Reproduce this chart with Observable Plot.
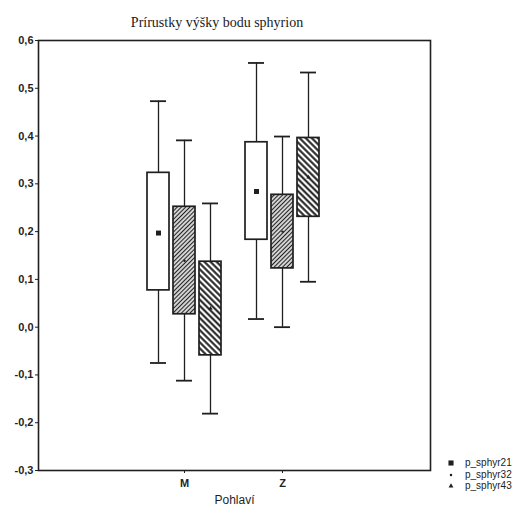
<!DOCTYPE html>
<html>
<head>
<meta charset="utf-8">
<script src="https://cdn.jsdelivr.net/npm/d3@7"></script>
<script src="https://cdn.jsdelivr.net/npm/@observablehq/plot@0.6"></script>
<style>
  body { margin: 0; background: #fff; }
  #wrap { position: relative; width: 531px; height: 510px; overflow: hidden; }
  #title { position: absolute; left: 0; top: 16px; width: 434px; text-align: center;
           font: 14px "Liberation Serif", "Times New Roman", serif; line-height: 14px; color: #1a1a1a; }
  #chart { position: absolute; left: 0; top: 30px; }
  #legend { position: absolute; left: 446px; top: 457px; font: 10px "Liberation Sans", Arial, sans-serif; color: #222; }
  .row { position: absolute; left: 0; height: 11px; white-space: nowrap; }
  .row svg { position: absolute; left: 0; top: 1px; }
  .row span { position: absolute; left: 19px; top: 0; line-height: 11px; }
</style>
</head>
<body>
<svg width="0" height="0" style="position:absolute">
  <defs>
    <pattern id="hatchFine" width="3" height="3" patternUnits="userSpaceOnUse" patternTransform="rotate(45)">
      <rect width="3" height="3" fill="#fff"></rect>
      <line x1="1.5" y1="0" x2="1.5" y2="3" stroke="#222" stroke-width="1.4"></line>
    </pattern>
    <pattern id="hatchCoarse" width="4.3" height="4.3" patternUnits="userSpaceOnUse" patternTransform="rotate(-45)">
      <rect width="4.3" height="4.3" fill="#fff"></rect>
      <line x1="2.15" y1="0" x2="2.15" y2="4.3" stroke="#1a1a1a" stroke-width="2"></line>
    </pattern>
  </defs>
</svg>
<div id="wrap">
  <div id="title">Prírustky výšky bodu sphyrion</div>
  <div id="chart"></div>
  <div id="legend"></div>
</div>
<script>
// Groups on the x axis and the three measured series
const groups = ["M", "Z"];
const series = ["p_sphyr21", "p_sphyr32", "p_sphyr43"];

// Means, boxes and whiskers per series (M)
const meanM      = [0.197, 0.139, 0.039];
const boxLowM    = [0.077, 0.027, -0.059];
const boxHighM   = [0.323, 0.252, 0.137];
const whiskLowM  = [-0.075, -0.112, -0.181];
const whiskHighM = [0.473, 0.391, 0.259];

// Means, boxes and whiskers per series (Z)
const meanZ      = [0.284, 0.200, 0.314];
const boxLowZ    = [0.183, 0.123, 0.231];
const boxHighZ   = [0.387, 0.277, 0.396];
const whiskLowZ  = [0.017, 0.000, 0.095];
const whiskHighZ = [0.553, 0.399, 0.533];

const yTicks = [-0.3, -0.2, -0.1, 0.0, 0.1, 0.2, 0.3, 0.4, 0.5, 0.6];
const xLabel = "Pohlaví";

const ink = "#1f1f1f";
const fills = ["#fff", "url(#hatchFine)", "url(#hatchCoarse)"];
const symbols = ["square", "circle", "triangle"];
const radii = [2.8, 1.2, 1.6];

const source = {
  M: {mean: meanM, boxLow: boxLowM, boxHigh: boxHighM, whiskLow: whiskLowM, whiskHigh: whiskHighM},
  Z: {mean: meanZ, boxLow: boxLowZ, boxHigh: boxHighZ, whiskLow: whiskLowZ, whiskHigh: whiskHighZ}
};

const rows = [];
for (const g of groups) {
  series.forEach((s, i) => {
    const src = source[g];
    rows.push({group: g, series: s, i,
      mean: src.mean[i], boxLow: src.boxLow[i], boxHigh: src.boxHigh[i],
      whiskLow: src.whiskLow[i], whiskHigh: src.whiskHigh[i]});
  });
}

// Each group band holds three boxes 22px wide, 26px apart
const boxW = 22, step = 26;
const marks = [];
series.forEach((s, i) => {
  const d = rows.filter(r => r.i === i);
  const left = i * step, right = (series.length - 1 - i) * step;
  const dx = i * step + boxW / 2 - (boxW + step * (series.length - 1)) / 2;
  marks.push(
    Plot.ruleX(d, {x: "group", y1: "whiskLow", y2: "whiskHigh", dx, stroke: ink, strokeWidth: 1.3}),
    Plot.tickY(d, {x: "group", y: "whiskLow", insetLeft: left + 3, insetRight: right + 3, stroke: ink, strokeWidth: 1.8}),
    Plot.tickY(d, {x: "group", y: "whiskHigh", insetLeft: left + 3, insetRight: right + 3, stroke: ink, strokeWidth: 1.8}),
    Plot.barY(d, {x: "group", y1: "boxLow", y2: "boxHigh", insetLeft: left, insetRight: right,
                  fill: fills[i], stroke: ink, strokeWidth: 1.7}),
    Plot.dot(d, {x: "group", y: "mean", dx, symbol: symbols[i], r: radii[i], fill: ink, stroke: "none"})
  );
});

const fmt = v => d3.format(".1f")(v).replace(".", ",").replace("\u2212", "-");

const chart = Plot.plot({
  width: 531,
  height: 480,
  marginTop: 10,
  marginBottom: 40,
  marginLeft: 38,
  marginRight: 101,
  style: {fontFamily: "'Liberation Sans', Arial, sans-serif", fontSize: "11px", color: ink, background: "#fff"},
  x: {domain: groups, range: [147, 319], paddingInner: 0.245, paddingOuter: 0},
  y: {domain: [-0.3, 0.6]},
  marks: [
    ...marks,
    Plot.frame({stroke: ink, strokeWidth: 1.6}),
    Plot.axisY({ticks: yTicks, tickFormat: fmt, tickSize: 3, tickPadding: 2, fontWeight: "bold", fontSize: 11, label: null}),
    Plot.axisX({tickSize: 3, tickPadding: 6, fontWeight: "bold", fontSize: 11, label: null}),
    Plot.text([xLabel], {frameAnchor: "bottom", dy: 33, fontSize: 12, fill: ink})
  ]
});
document.getElementById("chart").appendChild(chart);

// Legend: marker symbol and series name
const legend = d3.select("#legend");
const legendSymbols = [d3.symbolSquare, d3.symbolCircle, d3.symbolTriangle];
const legendSizes = [26, 5, 10];
series.forEach((s, i) => {
  const row = legend.append("div").attr("class", "row").style("top", `${i * 11.5}px`);
  const svg = row.append("svg").attr("width", 10).attr("height", 10);
  svg.append("path").attr("transform", "translate(5,5)")
    .attr("d", d3.symbol(legendSymbols[i], legendSizes[i])()).attr("fill", ink);
  row.append("span").text(s);
});
</script>
</body>
</html>
